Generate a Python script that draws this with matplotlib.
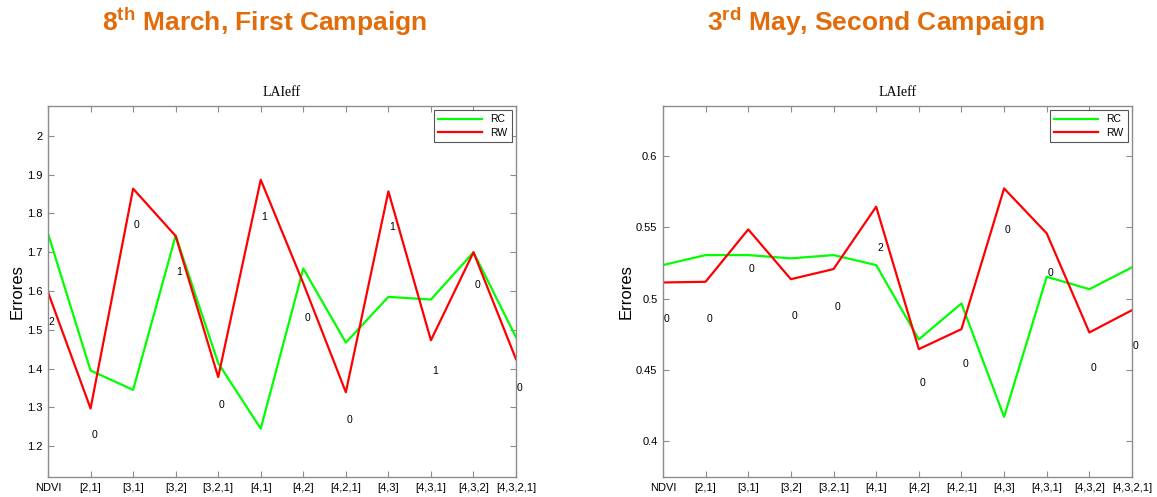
import matplotlib
matplotlib.use("Agg")
import matplotlib.pyplot as plt
from matplotlib.ticker import FuncFormatter

plt.rcParams['font.family'] = ['Liberation Sans', 'DejaVu Sans']
plt.rcParams['mathtext.fontset'] = 'custom'
plt.rcParams['mathtext.rm'] = 'Liberation Sans:bold'
plt.rcParams['mathtext.it'] = 'Liberation Sans:bold'
plt.rcParams['mathtext.bf'] = 'Liberation Sans:bold'

combos = ['NDVI', '[2,1]', '[3,1]', '[3,2]', '[3,2,1]', '[4,1]', '[4,2]',
          '[4,2,1]', '[4,3]', '[4,3,1]', '[4,3,2]', '[4,3,2,1]']

# first campaign (8 March)
rc_march = [1.748, 1.395, 1.345, 1.743, 1.414, 1.245, 1.658, 1.467, 1.585, 1.578, 1.700, 1.481]
rw_march = [1.597, 1.297, 1.864, 1.742, 1.378, 1.887, 1.620, 1.339, 1.857, 1.473, 1.700, 1.424]
lab_march = ['2', '0', '0', '1', '0', '1', '0', '0', '1', '1', '0', '0']
laby_march = [1.520, 1.229, 1.770, 1.649, 1.307, 1.791, 1.531, 1.268, 1.764, 1.395, 1.615, 1.351]

# second campaign (3 May)
rc_may = [0.5236, 0.5306, 0.5306, 0.5283, 0.5306, 0.5236, 0.4715, 0.4967, 0.4172, 0.5154, 0.5067, 0.5220]
rw_may = [0.5114, 0.5119, 0.5486, 0.5137, 0.5208, 0.5645, 0.4647, 0.4787, 0.5773, 0.5458, 0.4764, 0.4920]
lab_may = ['0', '0', '0', '0', '0', '2', '0', '0', '0', '0', '0', '0']
laby_may = [0.4855, 0.4855, 0.5208, 0.4880, 0.4943, 0.5357, 0.4410, 0.4546, 0.5481, 0.5182, 0.4518, 0.4670]

orange = '#E36C0A'
edge = '#8c8c8c'

fig = plt.figure(figsize=(11.57, 4.97), dpi=100)


def panel(rect, rc, rw, labs, laby, ylim, yticks, header, header_x, ylab_x):
    ax = fig.add_axes(rect)
    x = list(range(1, len(combos) + 1))
    ax.plot(x, rc, color='#00ff00', lw=1.6, label='RC')
    ax.plot(x, rw, color='#ff0000', lw=1.6, label='RW')
    for xi, s, yi in zip(x, labs, laby):
        ax.text(xi + 0.02, yi, s, fontsize=7.5, ha='left', va='center')
    ax.set_xlim(1, len(combos))
    ax.set_ylim(*ylim)
    ax.set_xticks(x)
    ax.set_xticklabels(combos)
    ax.set_yticks(yticks)
    ax.yaxis.set_major_formatter(FuncFormatter(lambda v, p: '%g' % round(v, 3)))
    ax.tick_params(direction='in', length=4, width=0.8, color=edge, labelsize=8,
                   top=True, right=True, pad=4)
    for sp in ax.spines.values():
        sp.set_color(edge)
        sp.set_linewidth(1.0)
    ax.set_title('LAIeff', family='Liberation Serif', fontsize=10, pad=7)
    leg = ax.legend(loc='upper right', fontsize=7.5, handlelength=4.2, fancybox=False,
                    framealpha=1, borderpad=0.4, labelspacing=0.3, borderaxespad=0.4)
    leg.get_frame().set_edgecolor('#555555')
    leg.get_frame().set_linewidth(0.8)
    fig.text(ylab_x, rect[1] + rect[3] / 2, 'Errores', rotation=90, fontsize=12,
             ha='center', va='center')
    fig.text(header_x, 0.955, header, color=orange, fontsize=19, fontweight='bold',
             family='Liberation Sans', ha='center', va='center')
    return ax


panel([0.0415, 0.040, 0.4045, 0.7465], rc_march, rw_march, lab_march, laby_march,
      (1.12, 2.077), [1.2, 1.3, 1.4, 1.5, 1.6, 1.7, 1.8, 1.9, 2.0],
      r'$8^{th}$ March, First Campaign', 0.2285, 0.0145)
panel([0.573, 0.040, 0.4054, 0.7465], rc_may, rw_may, lab_may, laby_may,
      (0.375, 0.635), [0.4, 0.45, 0.5, 0.55, 0.6],
      r'$3^{rd}$ May, Second Campaign', 0.757, 0.541)

fig.savefig('out.png', dpi=100)
